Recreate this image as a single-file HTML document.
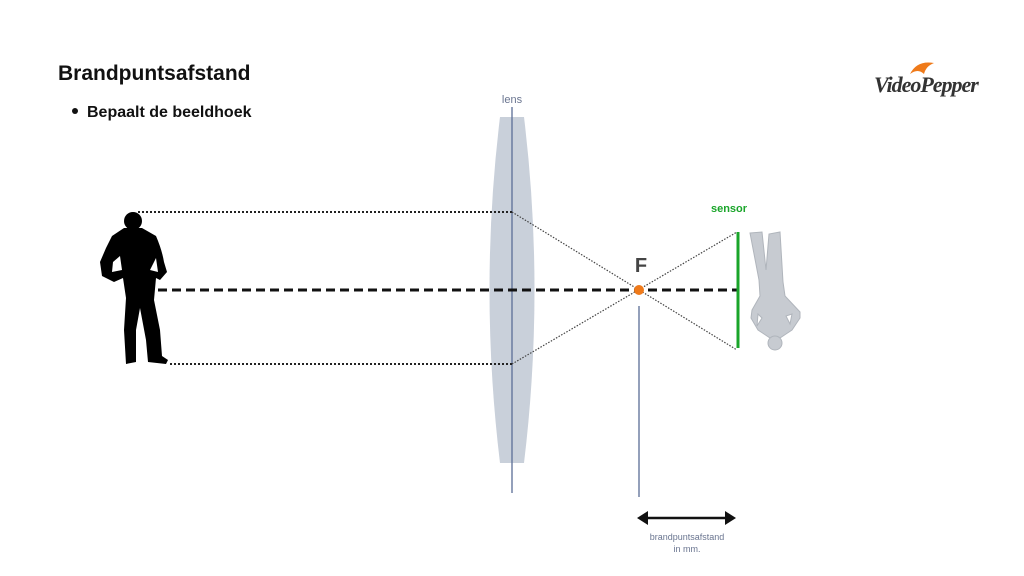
<!DOCTYPE html>
<html><head><meta charset="utf-8"><style>
html,body{margin:0;padding:0;background:#fff;width:1024px;height:576px;overflow:hidden}
svg{display:block;font-family:"Liberation Sans","DejaVu Sans",sans-serif}
</style></head><body>
<svg width="1024" height="576" viewBox="0 0 1024 576" xmlns="http://www.w3.org/2000/svg">
<text x="58" y="80" font-size="21" font-weight="bold" fill="#111">Brandpuntsafstand</text>
<circle cx="75" cy="111" r="3" fill="#111"/>
<text x="87" y="117" font-size="16" font-weight="bold" fill="#111">Bepaalt de beeldhoek</text>
<!-- logo -->
<path d="M910 74 Q917 60 934 63 Q926 66 924 74 Q918 68 910 74Z" fill="#ef7a1a"/>
<text x="874" y="92" font-size="22" font-style="italic" font-weight="bold" fill="#333" font-family="Liberation Serif,serif" letter-spacing="-1">VideoPepper</text>
<!-- lens -->
<path d="M500 117 L524 117 Q545 290 524 463 L500 463 Q479 290 500 117Z" fill="#c9d0da"/>
<text x="512" y="103" font-size="11" fill="#6a7590" text-anchor="middle">lens</text>
<line x1="512" y1="107" x2="512" y2="493" stroke="#5b6d96" stroke-width="1.3"/>
<!-- rays -->
<line x1="138" y1="212" x2="512" y2="212" stroke="#222" stroke-width="2" stroke-dasharray="2 2"/>
<line x1="170" y1="364" x2="512" y2="364" stroke="#222" stroke-width="2" stroke-dasharray="2 2"/>
<line x1="512" y1="212" x2="737" y2="350" stroke="#444" stroke-width="1.2" stroke-dasharray="1.5 1.5"/>
<line x1="512" y1="364" x2="737" y2="232" stroke="#444" stroke-width="1.2" stroke-dasharray="1.5 1.5"/>
<line x1="130" y1="290" x2="737" y2="290" stroke="#111" stroke-width="3" stroke-dasharray="9 5"/>
<line x1="738" y1="232" x2="738" y2="348" stroke="#1aa52a" stroke-width="3"/>
<text x="729" y="212" font-size="11" font-weight="bold" fill="#1aa52a" text-anchor="middle">sensor</text>
<text x="641" y="272" font-size="20" font-weight="bold" fill="#444" text-anchor="middle">F</text>
<line x1="639" y1="306" x2="639" y2="497" stroke="#5b6d96" stroke-width="1.3"/>
<circle cx="639" cy="290" r="5" fill="#ef7a1a"/>
<!-- arrow -->
<line x1="644" y1="518" x2="729" y2="518" stroke="#111" stroke-width="2.5"/>
<path d="M637 518 L648 511 L648 525 Z" fill="#111"/>
<path d="M736 518 L725 511 L725 525 Z" fill="#111"/>
<text x="687" y="540" font-size="9" fill="#6a7590" text-anchor="middle">brandpuntsafstand</text>
<text x="687" y="552" font-size="9" fill="#6a7590" text-anchor="middle">in mm.</text>
<!-- man silhouette -->
<circle cx="133" cy="221" r="9" fill="#000"/>
<path d="M124 228 L142 228 L156 236 Q162 250 164 262 L167 272 L160 280 L156 278 L154 300 L160 330 L162 356 L168 360 L166 364 L148 362 L146 340 L140 308 L136 330 L136 362 L126 364 L124 330 L126 298 L123 278 L114 282 L102 276 L100 262 L106 248 L112 236 Z M113 262 L112 272 L122 270 L120 256 Z M156 258 L150 270 L158 272 Z" fill="#000" fill-rule="evenodd"/>
<!-- upside-down person -->
<g fill="#c7cbd1" stroke="#b0b5bc" stroke-width="1">
<path d="M750 233 L762 232 L766 270 L769 234 L780 232 L783 282 L785 296 L800 312 L800 318 L792 330 L786 334 L780 338 L770 338 L764 334 L758 330 L751 318 L752 310 L760 296 L759 280 Z M758 314 L757 326 L762 318 Z M792 314 L790 324 L786 316 Z" fill-rule="evenodd"/>
<circle cx="775" cy="343" r="7"/>
</g>
</svg>
</body></html>
